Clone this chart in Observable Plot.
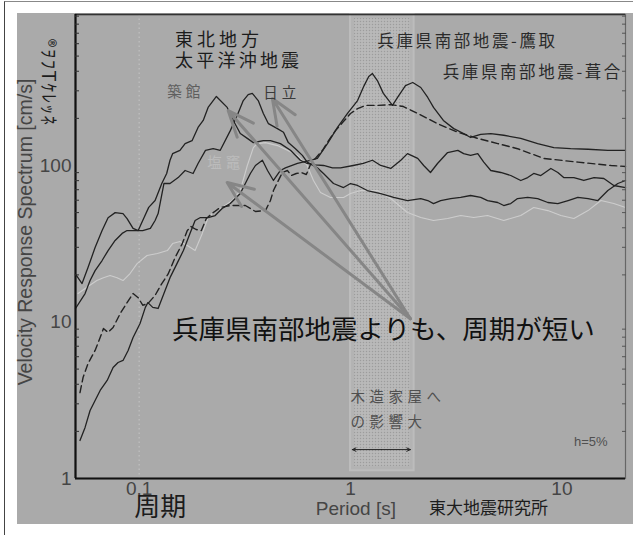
<!DOCTYPE html>
<html lang="ja">
<head>
<meta charset="utf-8">
<script src="https://cdn.jsdelivr.net/npm/d3@7"></script>
<script src="https://cdn.jsdelivr.net/npm/@observablehq/plot@0.6"></script>
<style>
  html, body { margin: 0; padding: 0; background: #fff; }
  #page { position: relative; width: 633px; height: 535px; overflow: hidden; }
  #edge { position: absolute; left: 4px; top: 1px; right: 0; bottom: 0; border-left: 1px solid #444; border-top: 1px solid #888; }
  #panel { position: absolute; left: 17px; top: 13px; width: 616px; height: 511px; background: #aaaaaa; }
  #chart { position: absolute; left: 0; top: 0; }
</style>
</head>
<body>
<div id="page"><div id="edge"></div><div id="panel"></div><div id="chart"></div></div>
<script>
// Axes
const periodDomain = [0.05, 20];
const velocityDomain = [1, 922];
const periodTicks = [0.1, 1, 10];
const velocityTicks = [1, 10, 100];
const velocityMinorTicks = [2, 3, 4, 5, 6, 7, 8, 9, 20, 30, 40, 50, 60, 70, 80, 90, 200, 300, 400, 500, 600, 700, 800, 900];

// 2011 東北地方太平洋沖地震
const tsukidatePeriod = [0.05,0.0537,0.0573,0.0619,0.0668,0.0713,0.077,0.0839,0.0877,0.0936,0.099,0.104,0.111,0.119,0.128,0.135,0.14,0.144,0.156,0.165,0.178,0.19,0.201,0.212,0.232,0.261,0.279,0.301,0.325,0.347,0.387,0.418,0.466,0.52,0.579,0.624,0.682,0.745,0.822,0.897,1.03,1.15,1.27,1.39,1.55,1.73,1.86,2.08,2.22,2.39,2.58,2.88,3.22,3.43,3.7,4.0,4.27,4.61,5.14,5.73,6.39,6.89,7.36,7.95,8.87,9.57,10.2,11.4,12.7,14.2,15.8,17.6,20];
const tsukidateVelocity = [20.2,17.6,22.3,29.9,38.4,46.4,50.0,49.3,45.8,39.6,38.4,44.5,54.0,59.7,76.7,88.9,108,119,125,138,144,175,194,235,276,235,194,160,149,140,144,144,138,125,108,103,101,100,96.6,96.6,100,103,108,100,95.7,108,119,111,100,90.2,103,121,125,119,116,119,105,92.9,90.2,86.3,80.2,83.7,88.9,86.3,95.7,90.2,83.7,83.7,80.2,83.7,82.6,74.5,72.3];

const hitachiPeriod = [0.05,0.0555,0.0586,0.0619,0.0668,0.0713,0.077,0.0831,0.0877,0.0957,0.104,0.113,0.119,0.123,0.131,0.14,0.153,0.165,0.18,0.19,0.206,0.224,0.242,0.27,0.291,0.311,0.328,0.343,0.366,0.387,0.409,0.451,0.482,0.508,0.549,0.592,0.624,0.697,0.745,0.831,0.927,1.0,1.08,1.2,1.39,1.6,1.86,2.15,2.32,2.47,2.67,2.98,3.32,3.7,4.13,4.45,4.97,5.31,5.73,6.17,6.89,7.68,8.58,9.57,10.7,11.9,13.3,14.8,16.5,18.4,20];
const hitachiVelocity = [12.2,15.2,18.4,21.3,24.7,28.6,33.2,36.8,38.4,38.4,38.4,39.6,44.5,49.3,76.7,76.7,83.7,92.9,88.9,103,125,128,125,167,209,260,284,289,260,215,185,172,163,140,128,116,105,96.6,88.9,76.7,72.3,76.7,74.5,69.2,66.2,62.5,59.7,61.5,59.7,57.1,59.7,61.5,62.5,64.3,62.5,59.7,58.0,55.5,57.1,61.5,62.5,61.5,58.0,57.1,59.7,62.5,61.5,59.7,69.2,76.7,80.2];

const shiogamaPeriod = [0.0514,0.0564,0.0631,0.0678,0.0729,0.0786,0.0839,0.0906,0.0978,0.109,0.122,0.136,0.144,0.156,0.169,0.184,0.199,0.212,0.229,0.247,0.276,0.301,0.325,0.347,0.362,0.396,0.451,0.503,0.561,0.624,0.668,0.721,0.804,0.927,1.0,1.12,1.34,1.55,1.86,2.15,2.47,2.88,3.32,3.83,4.45,5.31,6.39,7.36,8.58,9.89,11.4,13.3,15.3,17.6,20];
const shiogamaVelocity = [15.2,16.6,18.4,19.2,19.8,19.2,18.4,20.4,23.6,26.6,27.4,28.6,31.7,32.7,30.8,28.6,36.8,46.5,51.5,53.9,59.7,69.2,100,130,138,140,134,125,116,100,80.2,67.2,62.5,62.5,66.2,69.2,69.2,61.5,50.1,46.5,44.5,45.8,47.9,46.5,47.9,44.5,47.9,53.9,51.5,47.9,45.8,51.5,59.7,57.2,53.9];

// 1995 兵庫県南部地震
const takatoriPeriod = [0.0525,0.0555,0.0586,0.0619,0.0654,0.0706,0.0753,0.0795,0.0839,0.0887,0.0936,0.101,0.107,0.11,0.116,0.123,0.131,0.14,0.151,0.162,0.174,0.184,0.195,0.212,0.229,0.247,0.27,0.301,0.336,0.355,0.383,0.405,0.432,0.466,0.492,0.561,0.646,0.697,0.778,0.868,0.968,1.08,1.16,1.22,1.27,1.34,1.43,1.58,1.67,1.82,1.97,2.15,2.32,2.47,2.75,3.08,3.43,3.7,4.13,4.61,5.31,6.39,7.68,9.16,11.0,13.3,16.5,20];
const takatoriVelocity = [1.75,2.12,2.72,3.15,3.65,4.23,5.12,5.51,5.68,6.58,7.96,9.78,12.4,13.3,12.4,12.2,15.2,19.2,23.6,28.6,36.8,44.5,46.5,46.5,47.9,53.1,57.2,66.2,88.9,100,108,92.9,80.2,92.9,96.6,103,108,111,138,175,215,260,324,370,387,349,289,242,272,324,339,315,272,235,194,172,160,151,158,160,156,149,138,130,128,127,125,125];

const fukiaiPeriod = [0.0525,0.0543,0.0573,0.0619,0.0654,0.0678,0.0713,0.0753,0.0813,0.0877,0.0936,0.099,0.104,0.11,0.119,0.128,0.137,0.148,0.16,0.169,0.176,0.186,0.197,0.208,0.224,0.242,0.27,0.318,0.355,0.396,0.418,0.432,0.451,0.476,0.503,0.525,0.554,0.585,0.618,0.646,0.682,0.737,0.787,0.849,0.917,1.0,1.08,1.18,1.34,1.55,1.78,2.08,2.58,3.22,4.0,4.97,6.17,8.21,11.9,17.1,20];
const fukiaiVelocity = [3.54,4.42,5.43,6.58,7.96,9.09,8.57,9.22,11.3,13.3,15.2,14.3,12.8,13.1,14.8,17.6,20.2,25.8,31.7,38.4,40.7,39.0,38.4,45.8,50.0,53.9,55.5,55.5,50.8,51.5,59.7,69.2,77.9,90.2,92.9,86.3,88.9,90.2,87.6,101,111,125,144,167,188,215,231,242,242,245,238,215,185,163,149,138,128,111,105,100,98.6];

// 木造家屋に効く周期帯 [s]
const woodPeriodRange = [1, 2];

// Pointers from the comparison statement to the 2011 peaks
const pointerStations = ["築館", "日立", "塩竈"];
const pointerTipPeriod = [0.264, 0.427, 0.261];
const pointerTipVelocity = [224, 268, 77.9];
const pointerTail = [1.92, 10.5];

const series = [
  {station: "築館", period: tsukidatePeriod, velocity: tsukidateVelocity},
  {station: "日立", period: hitachiPeriod, velocity: hitachiVelocity},
  {station: "塩竈", period: shiogamaPeriod, velocity: shiogamaVelocity},
  {station: "鷹取", period: takatoriPeriod, velocity: takatoriVelocity},
  {station: "葺合", period: fukiaiPeriod, velocity: fukiaiVelocity}
];
const rows = series.flatMap(s => s.period.map((p, i) => ({station: s.station, period: p, velocity: s.velocity[i]})));
const pointers = pointerStations.map((s, i) => ({
  station: s, tailT: pointerTail[0], tailV: pointerTail[1], tipT: pointerTipPeriod[i], tipV: pointerTipVelocity[i]
}));
const band = [{start: woodPeriodRange[0], end: woodPeriodRange[1], low: 1.12, high: velocityDomain[1]}];
const spanMid = Math.sqrt(1.02 * 1.92);
const spanArrows = [{from: spanMid, to: 1.02, v: 1.53}, {from: spanMid, to: 1.92, v: 1.53}];

const jp = "'Noto Sans CJK JP', 'Noto Sans', sans-serif";
const latin = "'Liberation Sans', Arial, sans-serif";
const ink = "#1c1c1c";

const svg = Plot.plot({
  width: 633,
  height: 535,
  marginLeft: 75,
  marginRight: 8,
  marginTop: 14,
  marginBottom: 57,
  style: {background: "transparent", fontFamily: latin},
  x: {type: "log", domain: periodDomain, label: null},
  y: {type: "log", domain: velocityDomain, label: null},
  marks: [
    // wood-house period band
    Plot.rect(band, {x1: "start", x2: "end", y1: "low", y2: "high", fill: "#b3b3b3", stroke: "#bcbcbc", strokeWidth: 2}),
    Plot.rect(band, {x1: "start", x2: "end", y1: "low", y2: "high", fill: "url(#stipple)", inset: 4}),
    Plot.ruleX([0.1], {stroke: "#c6c6c6", strokeDasharray: "1.5,3"}),

    // spectra
    Plot.line(rows.filter(d => d.station === "塩竈"), {x: "period", y: "velocity", stroke: "#cdcdcd", strokeWidth: 1.1}),
    Plot.line(rows.filter(d => d.station === "葺合"), {x: "period", y: "velocity", stroke: "#222", strokeWidth: 1.4, strokeDasharray: "7,4"}),
    Plot.line(rows.filter(d => ["築館", "日立", "鷹取"].includes(d.station)), {x: "period", y: "velocity", z: "station", stroke: "#222", strokeWidth: 1.3}),

    // pointers
    Plot.arrow(pointers, {x1: "tailT", y1: "tailV", x2: "tipT", y2: "tipV", stroke: "#868686", strokeWidth: 3, headLength: 14, headAngle: 45}),
    Plot.arrow(spanArrows, {x1: "from", y1: "v", x2: "to", y2: "v", stroke: "#222", strokeWidth: 1, headLength: 6, headAngle: 50}),

    // frame and ticks
    Plot.frame({stroke: "#666", strokeWidth: 1.2}),
    Plot.ruleY([velocityDomain[1]], {stroke: "#333", strokeWidth: 1.4}),
    Plot.ruleX([periodDomain[0]], {stroke: "#111", strokeWidth: 2.2}),
    Plot.ruleY([velocityDomain[0]], {stroke: "#111", strokeWidth: 2.2}),
    Plot.axisY(velocityMinorTicks, {anchor: "left", tickSize: 4, dx: 4, tickFormat: () => "", stroke: "#333"}),
    Plot.axisY(velocityMinorTicks, {anchor: "right", tickSize: 4, dx: -4, tickFormat: () => "", stroke: "#555"}),
    Plot.axisY(velocityTicks, {anchor: "left", tickSize: 0, tickPadding: 4, fontSize: 19, fill: "#454545", tickFormat: d => String(d)}),
    Plot.axisX(periodTicks, {anchor: "bottom", tickSize: 0, tickPadding: 3, fontSize: 19, fill: "#454545", tickFormat: d => String(d)}),

    // axis titles
    Plot.text(["Velocity Response Spectrum [cm/s]"], {frameAnchor: "left", dx: -50, dy: -14.5, rotate: -90, textAnchor: "middle", lineAnchor: "middle", fontSize: 19.5, fill: "#454545", fontFamily: latin}),
    Plot.text(["®ｦﾌTｹﾚｯﾈ"], {frameAnchor: "top-left", dx: -28, dy: 68, rotate: 90, textAnchor: "middle", lineAnchor: "middle", fontSize: 18.5, fill: ink, fontFamily: jp}),
    Plot.text(["Period [s]"], {x: 1.06, y: 0.64, fontSize: 19, fill: "#454545", fontFamily: latin}),
    Plot.text(["周期"], {x: 0.126, y: 0.653, fontSize: 26, fill: ink, fontFamily: jp}),
    Plot.text(["東大地震研究所"], {x: 4.5, y: 0.643, fontSize: 17, fill: ink, fontFamily: jp}),

    // annotations
    Plot.text(["東北地方"], {x: 0.148, y: 629, textAnchor: "start", fontSize: 18, fill: ink, fontFamily: jp}),
    Plot.text(["太平洋沖地震"], {x: 0.148, y: 462, textAnchor: "start", fontSize: 18, fill: ink, fontFamily: jp}),
    Plot.text(["築館"], {x: 0.136, y: 293, textAnchor: "start", fontSize: 14.5, fill: "#5e5e5e", fontFamily: jp}),
    Plot.text(["日立"], {x: 0.387, y: 289, textAnchor: "start", fontSize: 14.5, fill: "#3a3a3a", fontFamily: jp}),
    Plot.text(["塩竈"], {x: 0.21, y: 103, textAnchor: "start", fontSize: 14.5, fill: "#bcbcbc", fontFamily: jp}),
    Plot.text(["兵庫県南部地震-鷹取"], {x: 1.34, y: 620, textAnchor: "start", fontSize: 16.5, fill: "#2a2a2a", fontFamily: jp}),
    Plot.text(["兵庫県南部地震-葺合"], {x: 2.73, y: 393, textAnchor: "start", fontSize: 16.5, fill: "#2a2a2a", fontFamily: jp}),
    Plot.text(["兵庫県南部地震よりも、周期が短い"], {x: 0.143, y: 8.83, textAnchor: "start", fontSize: 26.5, fill: "#111", fontFamily: jp}),
    Plot.text(["木造家屋へ"], {x: 1.0, y: 3.29, textAnchor: "start", fontSize: 14.5, fill: "#505050", fontFamily: jp}),
    Plot.text(["の影響大"], {x: 1.0, y: 2.28, textAnchor: "start", fontSize: 14.5, fill: "#505050", fontFamily: jp}),
    Plot.text(["h=5%"], {x: 11.4, y: 1.72, textAnchor: "start", fontSize: 13, fill: "#505050", fontFamily: latin})
  ]
});

// stipple texture for the period band
const defs = d3.select(svg).insert("defs", ":first-child");
const pat = defs.append("pattern").attr("id", "stipple").attr("width", 3).attr("height", 3).attr("patternUnits", "userSpaceOnUse");
pat.append("rect").attr("width", 3).attr("height", 3).attr("fill", "#b5b5b5");
pat.append("rect").attr("width", 1).attr("height", 1).attr("fill", "#9c9c9c");
pat.append("rect").attr("x", 1.5).attr("y", 1.5).attr("width", 1).attr("height", 1).attr("fill", "#c6c6c6");

// spaced Japanese labels
const spacing = new Map([
  ["東北地方", 4], ["太平洋沖地震", 3.2], ["築館", 4], ["日立", 4], ["塩竈", 4],
  ["兵庫県南部地震-鷹取", 2.6], ["兵庫県南部地震-葺合", 2.6], ["木造家屋へ", 4.5], ["の影響大", 4.5],
  ["®ｦﾌTｹﾚｯﾈ", 1.5]
]);
d3.select(svg).selectAll("text").each(function () {
  const s = spacing.get(this.textContent);
  if (s != null) this.setAttribute("letter-spacing", s);
});

document.getElementById("chart").appendChild(svg);
</script>
</body>
</html>
